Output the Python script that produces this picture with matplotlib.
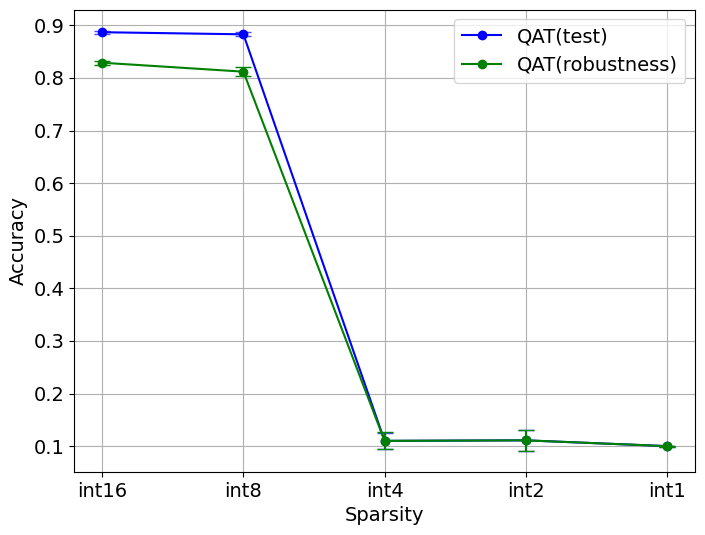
import matplotlib
matplotlib.use("Agg")
import matplotlib.pyplot as plt
import numpy as np

labels = ["int16", "int8", "int4", "int2", "int1"]
test_acc = [0.887, 0.883, 0.110, 0.111, 0.100]
test_err = [0.003, 0.004, 0.015, 0.020, 0.001]
rob_acc = [0.829, 0.812, 0.110, 0.111, 0.100]
rob_err = [0.004, 0.009, 0.016, 0.020, 0.001]

plt.rcParams['font.size'] = 14
fig, ax = plt.subplots(figsize=(7.05, 5.35), dpi=100)
x = np.arange(len(labels))
# lines with markers for the legend, error bars drawn separately
ax.plot(x, test_acc, color='blue', marker='o', label='QAT(test)')
ax.errorbar(x, test_acc, yerr=test_err, fmt='none', capsize=6, ecolor='blue', alpha=0.7)
ax.plot(x, rob_acc, color='green', marker='o', label='QAT(robustness)')
ax.errorbar(x, rob_acc, yerr=rob_err, fmt='none', capsize=6, ecolor='green')
ax.set_xticks(x)
ax.set_xticklabels(labels)
ax.set_xlabel('Sparsity')
ax.set_ylabel('Accuracy')
ax.grid(True)
ax.legend(loc='upper right')
fig.subplots_adjust(left=0.105, right=0.986, top=0.982, bottom=0.118)
fig.savefig('out.png')
